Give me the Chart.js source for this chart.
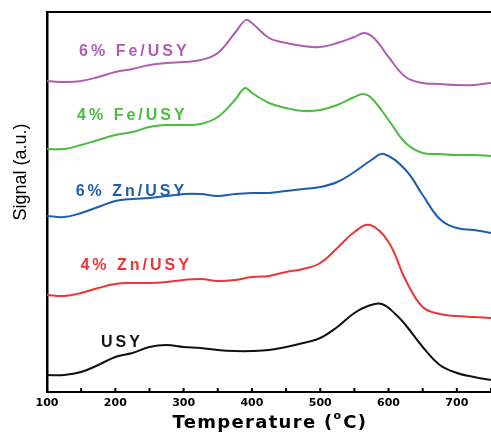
<!DOCTYPE html>
<html>
<head>
<meta charset="utf-8">
<script src="https://cdn.jsdelivr.net/npm/chart.js@4.4.1/dist/chart.umd.min.js"></script>
<style>
  html, body { margin: 0; padding: 0; background: #fff; }
  #wrap { width: 491px; height: 434px; position: relative; }
</style>
</head>
<body>
<div id="wrap"><canvas id="tpr"></canvas></div>
<script>
// temperature (C) sample points
const tempFe6 = [100, 125, 150, 175, 200, 225, 250, 275, 300, 325, 350, 375, 391, 400, 425, 450, 475, 500, 525, 550, 565, 580, 600, 625, 650, 675, 700, 725, 750];
const sigFe6  = [311, 310, 311, 315, 320, 323, 327, 329, 330, 332, 339, 359, 372, 369, 354, 349, 346, 345, 349, 355, 359, 353, 335, 315, 309, 308, 307, 307, 309];

const tempFe4 = [100, 125, 150, 175, 200, 225, 250, 275, 300, 325, 350, 375, 390, 400, 425, 450, 475, 500, 525, 550, 563, 575, 600, 625, 650, 675, 700, 725, 750];
const sigFe4  = [243, 243, 247, 252, 257, 260, 265, 267, 267, 268, 275, 292, 304, 299, 289, 284, 281, 282, 287, 295, 298, 294, 272, 249, 239, 238, 237, 237, 236];

const tempZn6 = [100, 125, 150, 175, 200, 225, 250, 275, 300, 325, 350, 375, 400, 425, 450, 475, 500, 525, 550, 575, 593, 625, 650, 675, 700, 725, 750];
const sigZn6  = [176, 175, 179, 185, 191, 193, 194, 196, 198, 198, 196, 198, 199, 199, 201, 203, 205, 210, 220, 232, 238, 222, 197, 173, 164, 162, 159];

const tempZn4 = [100, 125, 150, 175, 200, 225, 250, 275, 300, 325, 350, 375, 400, 425, 450, 475, 500, 525, 550, 573, 600, 625, 650, 675, 700, 725, 750];
const sigZn4  = [97, 96, 99, 104, 108, 109, 109, 110, 112, 113, 111, 112, 115, 116, 120, 123, 129, 144, 160, 167, 150, 112, 85, 78, 76, 75, 74];

const tempUSY = [100, 125, 150, 175, 200, 225, 250, 275, 300, 325, 350, 375, 400, 425, 450, 475, 500, 525, 550, 570, 590, 610, 625, 650, 675, 700, 725, 750];
const sigUSY  = [17, 17, 20, 27, 35, 39, 45, 47, 45, 44, 42, 41, 41, 42, 45, 49, 54, 65, 79, 86, 88, 78, 67, 45, 27, 19, 15, 12];

const seriesNames  = ['6% Fe/USY', '4% Fe/USY', '6% Zn/USY', '4% Zn/USY', 'USY'];
const seriesColors = ['#b05db3', '#4cbb3f', '#1f5db0', '#ee3434', '#111111'];
const xTickLabels  = [100, 200, 300, 400, 500, 600, 700];

function pts(xs, ys) {
    return xs.map(function (x, i) { return { x: x, y: ys[i] }; });
}

const allSeries = [
    pts(tempFe6, sigFe6),
    pts(tempFe4, sigFe4),
    pts(tempZn6, sigZn6),
    pts(tempZn4, sigZn4),
    pts(tempUSY, sigUSY)
];

// where each series name sits (data coords: temperature of left edge, signal of centre)
const labelSpots = [
    { x: 147, y: 340 },
    { x: 144, y: 276 },
    { x: 142, y: 200 },
    { x: 149, y: 126 },
    { x: 179, y: 49 }
];

const decorations = {
    id: 'decorations',
    afterDraw: function (chart) {
        const ctx = chart.ctx;
        const area = chart.chartArea;
        const xs = chart.scales.x;
        const ys = chart.scales.y;
        ctx.save();

        // top frame line
        ctx.strokeStyle = '#000';
        ctx.lineWidth = 2;
        ctx.beginPath();
        ctx.moveTo(area.left, area.top);
        ctx.lineTo(area.right, area.top);
        ctx.stroke();

        // inward tick marks every 50
        for (let t = 100; t <= 750; t += 50) {
            const px = xs.getPixelForValue(t);
            ctx.beginPath();
            ctx.moveTo(px, area.bottom);
            ctx.lineTo(px, area.bottom - 4);
            ctx.stroke();
        }

        // series names
        ctx.font = 'bold 16px "Liberation Sans", Arial, sans-serif';
        ctx.letterSpacing = '3px';
        ctx.textBaseline = 'middle';
        ctx.textAlign = 'left';
        seriesNames.forEach(function (name, i) {
            ctx.fillStyle = seriesColors[i];
            ctx.fillText(name, xs.getPixelForValue(labelSpots[i].x), ys.getPixelForValue(labelSpots[i].y));
        });

        // x axis title with superscript o
        ctx.fillStyle = '#000';
        ctx.letterSpacing = '1.3px';
        const big = 'bold 18px "DejaVu Sans", sans-serif';
        const small = 'bold 11px "DejaVu Sans", sans-serif';
        const a = 'Temperature (';
        const b = 'C)';
        ctx.font = big;
        const wa = ctx.measureText(a).width;
        const wb = ctx.measureText(b).width;
        ctx.font = small;
        const wo = ctx.measureText('o').width;
        const total = wa + wo + 1 + wb;
        const x0 = (area.left + area.right) / 2 - total / 2 + 1;
        const yb = 423;
        ctx.font = big;
        ctx.fillText(a, x0, yb);
        ctx.font = small;
        ctx.fillText('o', x0 + wa, yb - 7);
        ctx.font = big;
        ctx.fillText(b, x0 + wa + wo + 1, yb);
        ctx.letterSpacing = '0px';

        // y axis title
        ctx.save();
        ctx.translate(21, 172);
        ctx.rotate(-Math.PI / 2);
        ctx.textAlign = 'center';
        ctx.font = '18px "Liberation Sans Narrow", "Liberation Sans", sans-serif';
        ctx.fillText('Signal (a.u.)', 0, 0);
        ctx.restore();

        ctx.restore();
    }
};

const ctx = document.getElementById('tpr').getContext('2d');

new Chart(ctx, {
    type: 'line',
    data: {
        datasets: allSeries.map(function (d, i) {
            return {
                label: seriesNames[i],
                data: d,
                borderColor: seriesColors[i],
                borderWidth: 2,
                pointRadius: 0,
                tension: 0.4,
                fill: false
            };
        })
    },
    options: {
        responsive: true,
        maintainAspectRatio: false,
        animation: false,
        layout: { padding: { top: 12, right: 0, left: 0, bottom: 0 } },
        plugins: {
            legend: { display: false },
            tooltip: { enabled: false }
        },
        scales: {
            x: {
                type: 'linear',
                min: 100,
                max: 750,
                afterFit: function (scale) { scale.height = 42; },
                afterBuildTicks: function (scale) {
                    scale.ticks = xTickLabels.map(function (v) { return { value: v }; });
                },
                grid: { display: false, drawTicks: false },
                border: { display: true, color: '#000', width: 2 },
                ticks: {
                    color: '#000',
                    padding: 5,
                    maxRotation: 0,
                    font: { family: '"DejaVu Sans", sans-serif', size: 11, weight: 'bold' }
                }
            },
            y: {
                min: 0,
                max: 380,
                afterFit: function (scale) { scale.width = 47; },
                grid: { display: false, drawTicks: false },
                border: { display: true, color: '#000', width: 2.5 },
                ticks: { display: false }
            }
        }
    },
    plugins: [decorations]
});
</script>
</body>
</html>
